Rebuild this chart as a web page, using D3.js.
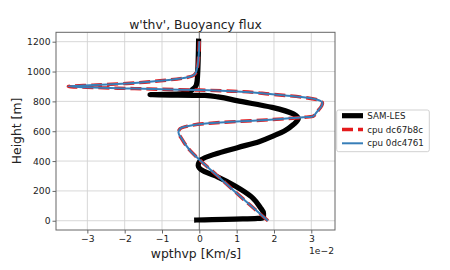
<!DOCTYPE html>
<html>
<head>
<meta charset="utf-8">
<script src="https://cdn.jsdelivr.net/npm/d3@7"></script>
<style>
  body { margin: 0; background: #fff; }
  text { font-family: "DejaVu Sans", sans-serif; fill: #222; }
</style>
</head>
<body>
<div id="plot"></div>
<script>
// values are in units of 1e-2 Km/s (shown by the offset label)
var samHeight = [5, 20, 50, 90, 160, 232, 293, 333, 371, 410, 445, 490, 530, 570, 605, 645, 683, 716, 760, 805, 830, 840, 845, 850, 862, 880, 910, 960, 1203];
var samFlux = [-0.07, 1.72, 1.72, 1.63, 1.4, 0.97, 0.5, 0.11, -0.03, 0.06, 0.4, 1.02, 1.6, 2.0, 2.3, 2.52, 2.65, 2.52, 1.95, 1.0, 0.5, 0.15, -1.32, -0.5, -0.3, -0.18, -0.08, -0.05, -0.02];

var cpuHeight = [0, 105, 205, 305, 405, 471, 549, 593, 616, 633, 650, 665, 677, 693, 700, 727, 771, 790, 805, 827, 849, 867, 876, 881, 887, 893, 900, 909, 920, 938, 960, 982, 1020, 1070, 1203];
var cpuFluxA = [1.84, 1.36, 0.91, 0.47, 0.02, -0.25, -0.47, -0.56, -0.52, -0.34, 0.11, 1.0, 1.89, 2.79, 3.05, 3.14, 3.28, 3.3, 3.23, 2.79, 1.89, 1.0, 0.0, -1.0, -1.95, -2.84, -3.51, -2.84, -1.95, -1.05, -0.34, -0.12, -0.06, -0.03, 0.0];
var cpuFluxB = [1.84, 1.36, 0.91, 0.47, 0.02, -0.25, -0.47, -0.56, -0.52, -0.34, 0.11, 1.0, 1.89, 2.79, 3.05, 3.14, 3.28, 3.3, 3.23, 2.79, 1.89, 1.0, 0.0, -1.0, -1.95, -2.84, -3.51, -2.84, -1.95, -1.05, -0.34, -0.12, -0.06, -0.03, 0.0];

var xTicks = [-3, -2, -1, 0, 1, 2, 3];
var yTicks = [0, 200, 400, 600, 800, 1000, 1200];
var legendNames = ["SAM-LES", "cpu dc67b8c", "cpu 0dc4761"];

var width = 450, height = 270;
var plotLeft = 56, plotRight = 335, plotTop = 32.3, plotBottom = 230;

var svg = d3.select("#plot").append("svg")
  .attr("width", width)
  .attr("height", height);

var x = d3.scaleLinear().domain([-3.84, 3.635]).range([plotLeft, plotRight]);
var y = d3.scaleLinear().domain([-62, 1263]).range([plotBottom, plotTop]);

// grid
svg.append("g").selectAll("line").data(xTicks).enter().append("line")
  .attr("x1", function(d){ return x(d); }).attr("x2", function(d){ return x(d); })
  .attr("y1", plotTop).attr("y2", plotBottom)
  .attr("stroke", "#d2d2d2").attr("stroke-width", 0.9);
svg.append("g").selectAll("line").data(yTicks).enter().append("line")
  .attr("y1", function(d){ return y(d); }).attr("y2", function(d){ return y(d); })
  .attr("x1", plotLeft).attr("x2", plotRight)
  .attr("stroke", "#d2d2d2").attr("stroke-width", 0.9);

// zero line
svg.append("line")
  .attr("x1", x(0)).attr("x2", x(0)).attr("y1", plotTop).attr("y2", plotBottom)
  .attr("stroke", "#7a7a7a").attr("stroke-width", 1);

function profile(vals, hts) {
  return d3.line()
    .curve(d3.curveMonotoneY)
    .x(function(d, i){ return x(vals[i]); })
    .y(function(d, i){ return y(hts[i]); })(hts);
}

svg.append("path")
  .attr("d", profile(samFlux, samHeight))
  .attr("fill", "none").attr("stroke", "#000").attr("stroke-width", 5.2)
  .attr("stroke-linecap", "square").attr("stroke-linejoin", "round");

svg.append("path")
  .attr("d", profile(cpuFluxA, cpuHeight))
  .attr("fill", "none").attr("stroke", "#e41a1c").attr("stroke-width", 3.4)
  .attr("stroke-dasharray", "11,5").attr("stroke-linejoin", "round");

svg.append("path")
  .attr("d", profile(cpuFluxB, cpuHeight))
  .attr("fill", "none").attr("stroke", "#377eb8").attr("stroke-width", 2)
  .attr("stroke-linejoin", "round");

// frame
svg.append("rect")
  .attr("x", plotLeft).attr("y", plotTop)
  .attr("width", plotRight - plotLeft).attr("height", plotBottom - plotTop)
  .attr("fill", "none").attr("stroke", "#666").attr("stroke-width", 1);

// axes
var xAxis = svg.append("g").attr("transform", "translate(0," + plotBottom + ")")
  .call(d3.axisBottom(x).tickValues(xTicks).tickSize(3.5).tickPadding(2)
    .tickFormat(function(d){ return d < 0 ? "\u2212" + Math.abs(d) : d; }));
var yAxis = svg.append("g").attr("transform", "translate(" + plotLeft + ",0)")
  .call(d3.axisLeft(y).tickValues(yTicks).tickSize(3.5).tickPadding(2)
    .tickFormat(d3.format("d")));

[xAxis, yAxis].forEach(function(g){
  g.select(".domain").remove();
  g.selectAll(".tick line").attr("stroke", "#666");
  g.selectAll(".tick text").attr("font-size", "9.2px").attr("fill", "#222")
    .style("font-family", "DejaVu Sans");
});

svg.append("text")
  .attr("x", (plotLeft + plotRight) / 2).attr("y", 29.3)
  .attr("text-anchor", "middle").attr("font-size", "12.4px")
  .text("w'thv', Buoyancy flux");

svg.append("text")
  .attr("x", 196).attr("y", 257.7)
  .attr("text-anchor", "middle").attr("font-size", "12.4px")
  .text("wpthvp [Km/s]");

svg.append("text")
  .attr("transform", "translate(20.7,131) rotate(-90)")
  .attr("text-anchor", "middle").attr("font-size", "12.4px")
  .text("Height [m]");

svg.append("text")
  .attr("x", 334).attr("y", 254)
  .attr("text-anchor", "end").attr("font-size", "9.2px")
  .text("1e\u22122");

// legend
var legend = svg.append("g");
legend.append("rect")
  .attr("x", 336.7).attr("y", 110).attr("width", 92.6).attr("height", 41.7)
  .attr("rx", 2).attr("fill", "#fff").attr("stroke", "#cccccc").attr("stroke-width", 0.9);

var legendStyles = [
  { color: "#000", w: 5.2, dash: null },
  { color: "#e41a1c", w: 3.4, dash: "11,5" },
  { color: "#377eb8", w: 2, dash: null }
];

var rows = legend.selectAll(".legend").data(legendNames).enter().append("g")
  .attr("class", "legend")
  .attr("transform", function(d, i){ return "translate(0," + (115.7 + i * 13.8) + ")"; });

rows.append("line")
  .attr("x1", 342).attr("x2", 363).attr("y1", 0).attr("y2", 0)
  .attr("stroke", function(d, i){ return legendStyles[i].color; })
  .attr("stroke-width", function(d, i){ return legendStyles[i].w; })
  .attr("stroke-dasharray", function(d, i){ return legendStyles[i].dash; });

rows.append("text")
  .attr("x", 367.3).attr("y", 0).attr("dy", "0.35em")
  .attr("font-size", "8.7px")
  .text(function(d){ return d; });
</script>
</body>
</html>
